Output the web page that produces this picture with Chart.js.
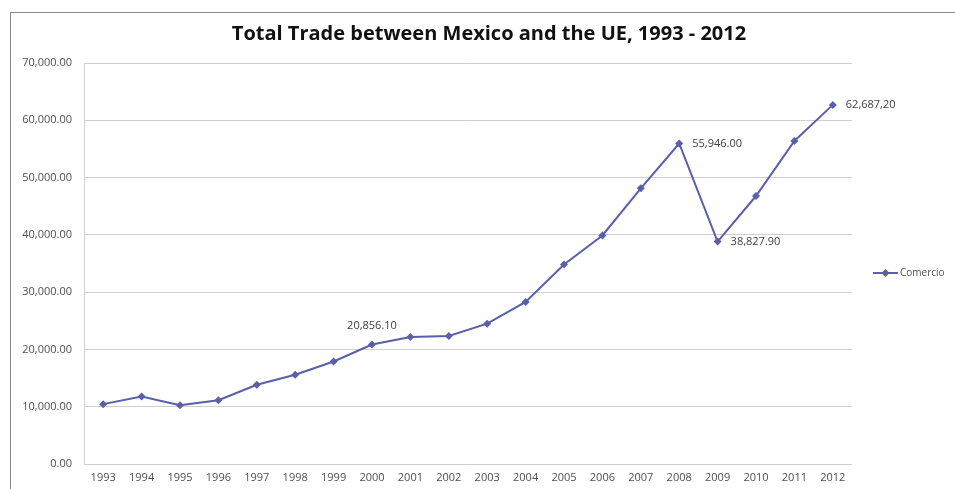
<!DOCTYPE html>
<html>
<head>
<meta charset="utf-8">
<script src="https://cdn.jsdelivr.net/npm/chart.js@4.4.0/dist/chart.umd.min.js"></script>
<style>
  html, body { margin: 0; padding: 0; background: #fff; }
  #wrap { position: relative; width: 955px; height: 489px; overflow: hidden; }
  #frame { position: absolute; left: 10px; top: 12px; width: 1000px; height: 600px; border: 1px solid #8a8a8a; }
  canvas { position: absolute; left: 0; top: 0; }
</style>
</head>
<body>
<div id="wrap">
  <div id="frame"></div>
  <canvas id="tradeChart" width="955" height="489"></canvas>
</div>
<script>
const years = ['1993', '1994', '1995', '1996', '1997', '1998', '1999', '2000', '2001', '2002',
  '2003', '2004', '2005', '2006', '2007', '2008', '2009', '2010', '2011', '2012'];
const comercio = [10450, 11780, 10270, 11140, 13830, 15580, 17900, 20856.1, 22170, 22350,
  24500, 28300, 34830, 39900, 48130, 55946, 38827.9, 46780, 56400, 62687.2];
// points that carry a value label, and the text shown next to each
const labelIdx = [7, 15, 16, 19];
const labelText = ['20,856.10', '55,946.00', '38,827.90', '62,687,20'];
const chartTitle = 'Total Trade between Mexico and the UE, 1993 - 2012';

const lineColor = '#5a5fab';
const font = "'Open Sans', 'Liberation Sans', sans-serif";

const fmt = v => v.toLocaleString('en-US', { minimumFractionDigits: 2, maximumFractionDigits: 2 });

const extras = {
  id: 'extras',
  afterDatasetsDraw(chart) {
    const ctx = chart.ctx;
    const meta = chart.getDatasetMeta(0);
    ctx.save();

    // title, centred across the whole frame rather than the plot
    ctx.font = 'bold 20px ' + font;
    ctx.fillStyle = '#111';
    ctx.textAlign = 'center';
    ctx.textBaseline = 'middle';
    ctx.fillText(chartTitle, 489, 34);

    ctx.font = '11px ' + font;
    ctx.fillStyle = '#404040';
    labelIdx.forEach((i, k) => {
      const p = meta.data[i];
      if (i === 7) {
        ctx.textAlign = 'center';
        ctx.fillText(labelText[k], p.x, p.y - 19);
      } else {
        ctx.textAlign = 'left';
        ctx.fillText(labelText[k], p.x + 13, p.y);
      }
    });

    // legend on the right: line sample with marker, then series name
    const ly = 273;
    ctx.strokeStyle = lineColor;
    ctx.lineWidth = 2;
    ctx.beginPath();
    ctx.moveTo(873, ly);
    ctx.lineTo(898, ly);
    ctx.stroke();
    ctx.fillStyle = lineColor;
    ctx.beginPath();
    ctx.moveTo(885.5, ly - 4);
    ctx.lineTo(889.5, ly);
    ctx.lineTo(885.5, ly + 4);
    ctx.lineTo(881.5, ly);
    ctx.closePath();
    ctx.fill();
    ctx.font = '10px ' + font;
    ctx.fillStyle = '#505050';
    ctx.textAlign = 'left';
    ctx.fillText('Comercio', 900, ly);
    ctx.restore();
  }
};

new Chart(document.getElementById('tradeChart'), {
  type: 'line',
  data: {
    labels: years,
    datasets: [{
      label: 'Comercio',
      data: comercio,
      borderColor: lineColor,
      backgroundColor: lineColor,
      borderWidth: 2,
      pointStyle: 'rectRot',
      pointRadius: 4,
      pointBorderWidth: 0,
      tension: 0
    }]
  },
  options: {
    responsive: false,
    animation: false,
    layout: { padding: { left: 0, right: 103, top: 63, bottom: 0 } },
    plugins: {
      legend: { display: false },
      tooltip: { enabled: false },
      title: { display: false }
    },
    scales: {
      x: {
        offset: true,
        grid: { display: false, drawTicks: false },
        border: { display: false },
        ticks: { color: '#505050', font: { family: font, size: 11 }, padding: 7, maxRotation: 0, autoSkip: false },
        afterFit(scale) { scale.height = 25; }
      },
      y: {
        min: 0,
        max: 70000,
        ticks: {
          stepSize: 10000,
          color: '#505050',
          font: { family: font, size: 11 },
          padding: 12,
          callback: v => fmt(v)
        },
        grid: { color: '#cfcfcf', drawTicks: false, lineWidth: 1 },
        border: { display: true, color: '#d0d0d0' },
        afterFit(scale) { scale.width = 84; }
      }
    }
  },
  plugins: [extras]
});
</script>
</body>
</html>
